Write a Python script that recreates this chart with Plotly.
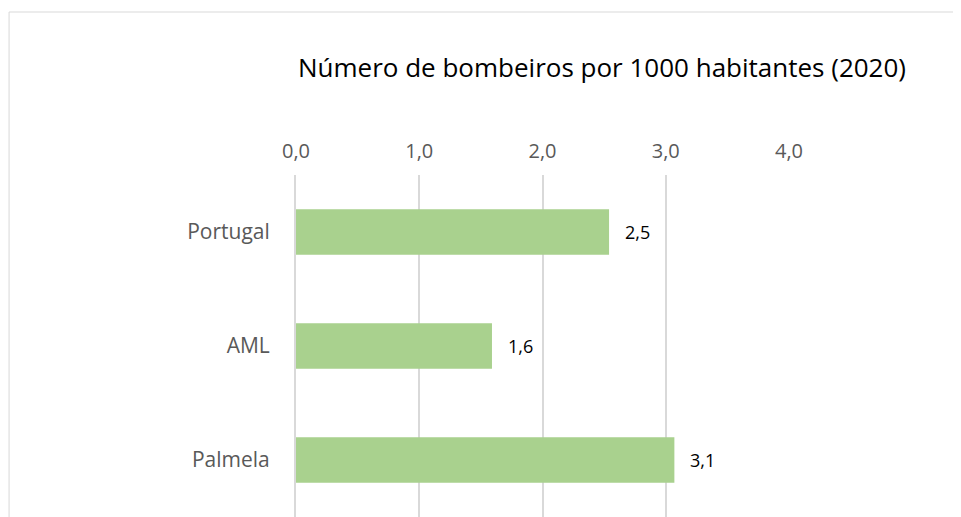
import plotly.graph_objects as go

# data
regioes = ['Portugal', 'AML', 'Palmela']
bombeiros = [2.54, 1.59, 3.07]
rotulos = ['2,5', '1,6', '3,1']
ticks = [0, 1, 2, 3, 4]

verde = '#a9d18e'
cinza = '#d9d9d9'
fonte = 'Open Sans'

fig = go.Figure()
fig.add_trace(go.Bar(
    x=bombeiros, y=regioes, orientation='h',
    marker=dict(color=verde, line=dict(width=0)),
    width=0.4, hoverinfo='skip',
))

# data labels a bit off the end of each bar
for v, r, t in zip(bombeiros, regioes, rotulos):
    fig.add_annotation(x=v, y=r, text=t, showarrow=False, xanchor='left',
                       xshift=14, font=dict(family=fonte, size=18, color='#000000'))

# chart border (cropped at right/bottom)
fig.add_shape(type='rect', xref='paper', yref='paper',
              x0=-0.582, x1=1.5, y0=-0.2, y1=1.4766,
              line=dict(color=cinza, width=1), layer='below')

# page body has an 8px margin, so the figure is 8px smaller
fig.update_layout(
    width=953, height=509,
    margin=dict(l=288, r=172, t=167, b=0),
    paper_bgcolor='white', plot_bgcolor='white',
    separators=',.',
    showlegend=False,
    title=dict(text='Número de bombeiros por 1000 habitantes (2020)',
               x=594 / 953, xanchor='center', y=1 - 60 / 509, yanchor='middle',
               font=dict(family=fonte, size=26, color='#000000')),
    font=dict(family=fonte),
)
fig.update_xaxes(side='top', range=[0, 4], tickvals=ticks, tickformat='.1f',
                 showgrid=True, gridcolor=cinza, gridwidth=2, zeroline=False,
                 showline=False, ticks='', ticklabelstandoff=12,
                 tickfont=dict(family=fonte, size=20, color='#595959'))
fig.update_yaxes(autorange='reversed', showgrid=False, zeroline=False,
                 showline=True, linecolor=cinza, linewidth=2, ticks='',
                 ticklabelstandoff=20,
                 tickfont=dict(family=fonte, size=21, color='#595959'))

fig.write_html('out.html')
